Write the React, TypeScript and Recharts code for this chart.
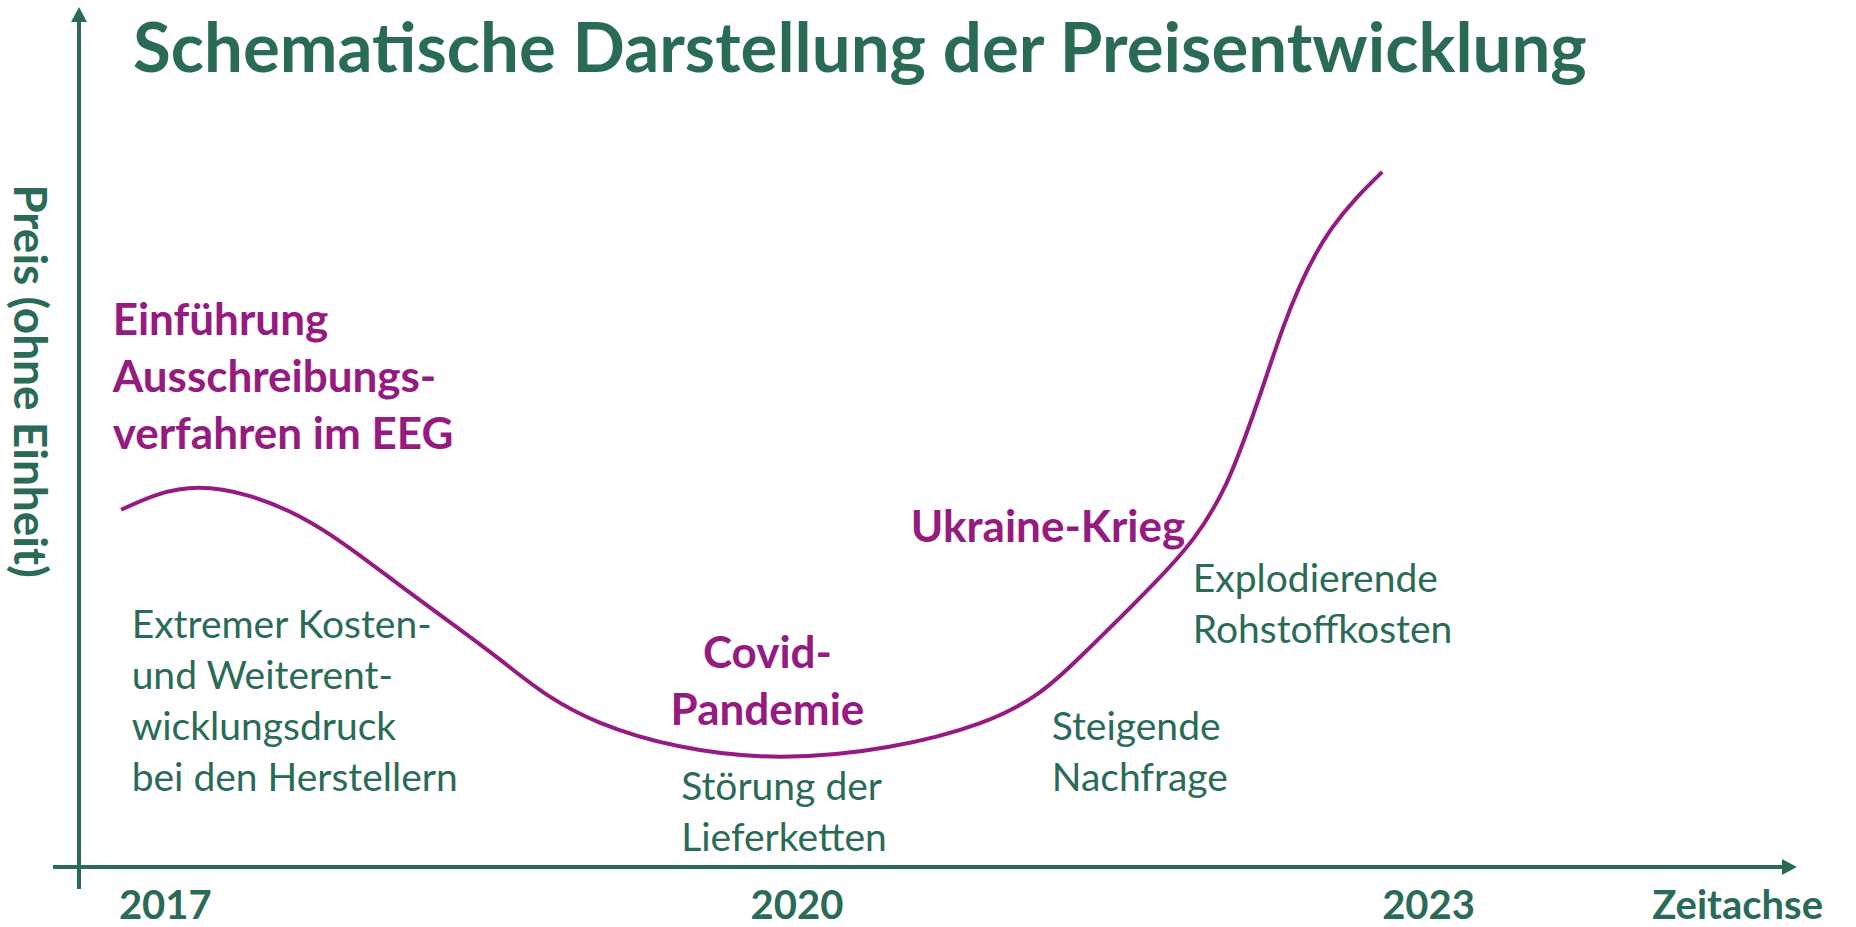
import React from 'react';
import { LineChart, Line, XAxis, YAxis, ReferenceLine, ReferenceDot, Label } from 'recharts';

const GREEN = '#2a6b57';
const PURPLE = '#951b81';
const FONT = 'Lato, "Open Sans", sans-serif';

// schematic price curve (x = year, y = price without unit)
const years = [
  2016.79, 2017.16, 2017.64, 2018.11, 2018.59, 2019.06, 2019.92,
  2020.87, 2021.34, 2021.71, 2022.04, 2022.31, 2022.54, 2022.78,
];
const prices = [
  40.5, 43.0, 39.7, 32.0, 23.5, 16.4, 12.5,
  16.3, 23.7, 32.5, 43.5, 61.2, 72.4, 78.8,
];

const tickYears = [2017, 2020, 2023];
const xAxisName = 'Zeitachse';
const yAxisName = 'Preis (ohne Einheit)';
const title = 'Schematische Darstellung der Preisentwicklung';

// where the price axis crosses the time axis
const AXIS_ORIGIN_YEAR = 2016.59;

// events (purple, bold)
const eventYears = [2016.75, 2019.86, 2020.54];
const eventPrices = [60.3, 22.6, 36.8];
const eventTexts = [
  ['Einführung', 'Ausschreibungs-', 'verfahren im EEG'],
  ['Covid-', 'Pandemie'],
  ['Ukraine-Krieg'],
];
const eventAnchors = ['start', 'middle', 'start'];

// causes (green)
const causeYears = [2016.84, 2019.45, 2021.21, 2021.88];
const causePrices = [26.0, 7.6, 14.4, 31.2];
const causeTexts = [
  ['Extremer Kosten-', 'und Weiterent-', 'wicklungsdruck', 'bei den Herstellern'],
  ['Störung der', 'Lieferketten'],
  ['Steigende', 'Nachfrage'],
  ['Explodierende', 'Rohstoffkosten'],
];

const data = years.map((year, i) => ({ year, price: prices[i] }));

function noteShape(lines: string[], bold: boolean, anchor: string) {
  return (p: any) => (
    <text
      x={p.cx}
      y={p.cy}
      textAnchor={anchor}
      fill={bold ? PURPLE : GREEN}
      fontFamily={FONT}
      fontWeight={bold ? 700 : 400}
      fontSize={bold ? 44 : 39}
    >
      {lines.map((l, i) => (
        <tspan key={i} x={p.cx} dy={i === 0 ? 0 : bold ? 57 : 51}>
          {l}
        </tspan>
      ))}
    </text>
  );
}

const XArrow = (p: any) => {
  const left = Math.min(p.x1, p.x2) - 26;
  const tip = Math.max(p.x1, p.x2);
  const y = p.y1;
  return (
    <g>
      <line x1={left} y1={y} x2={tip - 10} y2={y} stroke={GREEN} strokeWidth={4} />
      <polygon points={`${tip},${y} ${tip - 15},${y - 8} ${tip - 15},${y + 8}`} fill={GREEN} />
    </g>
  );
};

const YArrow = (p: any) => {
  const top = Math.min(p.y1, p.y2) - 22;
  const bottom = Math.max(p.y1, p.y2) + 22;
  const x = p.x1;
  return (
    <g>
      <line x1={x} y1={top + 10} x2={x} y2={bottom} stroke={GREEN} strokeWidth={4} />
      <polygon points={`${x},${top} ${x - 8},${top + 15} ${x + 8},${top + 15}`} fill={GREEN} />
    </g>
  );
};

const YearTick = (p: any) => (
  <text x={p.x} y={p.y + 52} textAnchor="middle" fill={GREEN} fontFamily={FONT} fontWeight={700} fontSize={40}>
    {p.payload.value}
  </text>
);

export default function App() {
  return (
    <div style={{ position: 'absolute', left: 0, top: 0, width: 1856, height: 927, background: '#fff' }}>
      <div
        style={{
          position: 'absolute',
          left: 133,
          top: 11,
          fontFamily: FONT,
          fontWeight: 700,
          fontSize: 69,
          lineHeight: 1,
          color: GREEN,
          whiteSpace: 'nowrap',
        }}
      >
        {title}
      </div>
      <LineChart width={1856} height={927} data={data} margin={{ top: 29, right: 59, bottom: 0, left: 0 }}>
        <XAxis
          dataKey="year"
          type="number"
          domain={[AXIS_ORIGIN_YEAR, 2024.75]}
          allowDataOverflow
          ticks={tickYears}
          axisLine={false}
          tickLine={false}
          tickSize={0}
          tickMargin={0}
          height={60}
          tick={YearTick}
        >
          <Label
            content={(p: any) => (
              <text
                x={p.viewBox.x + p.viewBox.width + 26}
                y={p.viewBox.y + 52}
                textAnchor="end"
                fill={GREEN}
                fontFamily={FONT}
                fontWeight={700}
                fontSize={40}
              >
                {xAxisName}
              </text>
            )}
          />
        </XAxis>
        <YAxis
          type="number"
          domain={[0, 95]}
          allowDataOverflow
          width={79}
          axisLine={false}
          tickLine={false}
          tick={false}
        >
          <Label
            content={(p: any) => (
              <text
                transform={`translate(${p.viewBox.x + 31},${p.viewBox.y + 352}) rotate(90)`}
                textAnchor="middle"
                dominantBaseline="central"
                fill={GREEN}
                fontFamily={FONT}
                fontWeight={700}
                fontSize={46}
              >
                {yAxisName}
              </text>
            )}
          />
        </YAxis>
        <ReferenceLine y={0} ifOverflow="visible" shape={XArrow} />
        <ReferenceLine x={AXIS_ORIGIN_YEAR} ifOverflow="visible" shape={YArrow} />
        <Line
          type="natural"
          dataKey="price"
          stroke={PURPLE}
          strokeWidth={4}
          dot={false}
          activeDot={false}
          isAnimationActive={false}
        />
        {eventYears.map((x, i) => (
          <ReferenceDot
            key={'e' + i}
            x={x}
            y={eventPrices[i]}
            ifOverflow="visible"
            shape={noteShape(eventTexts[i], true, eventAnchors[i])}
          />
        ))}
        {causeYears.map((x, i) => (
          <ReferenceDot
            key={'c' + i}
            x={x}
            y={causePrices[i]}
            ifOverflow="visible"
            shape={noteShape(causeTexts[i], false, 'start')}
          />
        ))}
      </LineChart>
    </div>
  );
}
